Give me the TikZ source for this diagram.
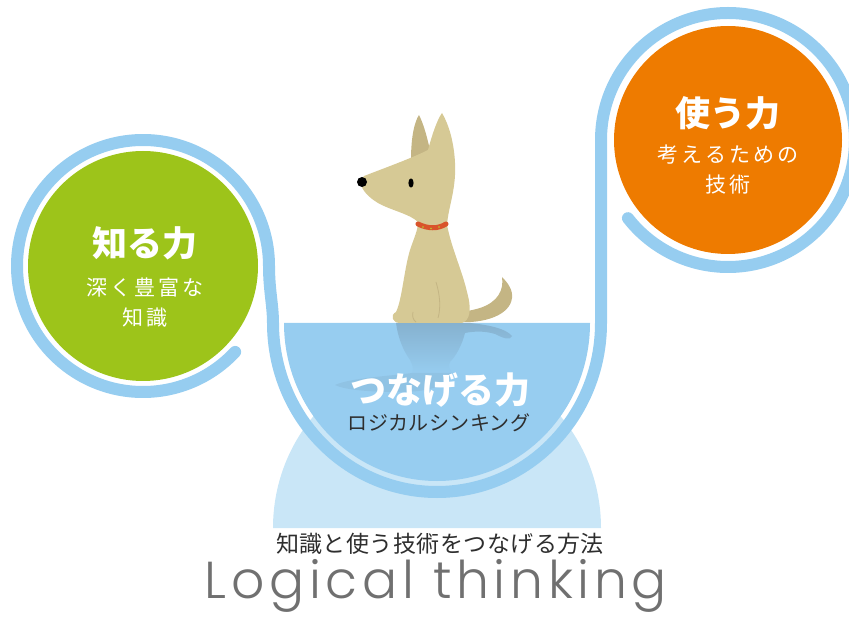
\documentclass[tikz,border=0pt]{standalone}
\usepackage{fontspec}
\newfontfamily\jp{Noto Sans CJK JP}
\newfontfamily\logofont{Poppins Light}
\usetikzlibrary{fadings}

\definecolor{ringblue}{HTML}{96CDF0}
\definecolor{waterblue}{HTML}{97CDF0}
\definecolor{domeblue}{HTML}{C9E6F7}
\definecolor{knowgreen}{HTML}{9DC41A}
\definecolor{useorange}{HTML}{EE7B00}
\definecolor{dogfur}{HTML}{D6C995}
\definecolor{dogshade}{HTML}{C4B584}
\definecolor{collarred}{HTML}{D9542B}
\definecolor{collardot}{HTML}{B5CF2A}
\definecolor{reflectblue}{HTML}{7FA6C2}
\definecolor{darktext}{HTML}{2E2E2E}
\definecolor{logogray}{HTML}{707070}

\tikzset{
  ring/.style={draw=ringblue, line width=12, line cap=round},
  title/.style={text=white, font={\jp\bfseries\fontsize{35}{40}\selectfont}, inner sep=0},
  subtitle/.style={text=white, align=center, inner sep=0,
    font={\jp\fontsize{21}{30}\selectfont\addfontfeatures{LetterSpace=15}}},
  reflect/.style={fill=reflectblue},
}

\begin{document}
\begin{tikzpicture}[x=1pt, y=-1pt]
\useasboundingbox (0,0) rectangle (849,617);

% pale stand under the bowl
\fill[domeblue] (273,528) arc[start angle=180, end angle=360, x radius=164, y radius=170] -- cycle;

% water in the bowl
\path[fill=waterblue] (284,323) arc[start angle=180, end angle=0, x radius=153, y radius=158] -- cycle;

% reflection of the dog on the water
\begin{scope}
  \clip (284,323) arc[start angle=180, end angle=0, x radius=153, y radius=158] -- cycle;
  \fill[reflect, opacity=0.7, path fading=south]
    (396,323) -- (470,323) .. controls (488,325) and (505,328) .. (512,336)
    .. controls (510,341) and (503,338) .. (495,334)
    .. controls (485,331) and (475,331) .. (465,333)
    .. controls (462,345) and (456,356) .. (450,362)
    .. controls (448,366) and (450,370) .. (452,373) -- (412,373)
    .. controls (414,368) and (412,364) .. (410,360)
    .. controls (403,350) and (398,338) .. (396,323) -- cycle;
  \fill[reflect, opacity=0.25]
    (412,373) -- (452,373) .. controls (450,385) and (430,392) .. (400,392)
    .. controls (370,392) and (345,390) .. (335,385)
    .. controls (350,378) and (390,376) .. (412,373) -- cycle;
\end{scope}

% the blue line: around the left circle, through the bowl, around the right circle
\draw[ring] (143,266) ++(43:126) arc[start angle=43, end angle=360, radius=126]
  .. controls (269,290) and (273,305) .. (273,323)
  arc[start angle=180, end angle=0, x radius=164, y radius=169]
  -- (601,140) arc[start angle=180, end angle=502, radius=127];

% the two circles
\fill[knowgreen] (143,266) circle[radius=115];
\fill[useorange] (728,140) circle[radius=114];

% dog: back ear
\fill[dogshade] (411,160) .. controls (411,135) and (415,121) .. (419,115)
  .. controls (424,125) and (427,137) .. (430,150) -- cycle;
% dog: tail
\fill[dogshade] (455,322) .. controls (485,324) and (510,315) .. (512,298)
  .. controls (513,290) and (508,283) .. (502,277)
  .. controls (504,290) and (498,302) .. (480,308)
  .. controls (470,311) and (462,312) .. (455,312) -- cycle;
% dog: head, front ear and body
\fill[dogfur] (364,176) .. controls (390,166) and (412,158) .. (428,150)
  .. controls (432,135) and (437,120) .. (442,113)
  .. controls (452,130) and (456,155) .. (455,175)
  .. controls (454,195) and (448,210) .. (447,225)
  .. controls (452,250) and (462,270) .. (467,292)
  .. controls (472,310) and (470,320) .. (462,323)
  -- (400,323) .. controls (392,323) and (390,315) .. (396,312)
  .. controls (402,300) and (404,270) .. (410,250)
  .. controls (414,238) and (418,230) .. (418,222)
  .. controls (410,214) and (390,210) .. (378,203)
  .. controls (368,197) and (362,190) .. (361,184)
  .. controls (361,180) and (362,178) .. (364,176) -- cycle;
% dog: leg and paw lines
\draw[dogshade, line width=0.8] (436,282) .. controls (440,295) and (441,308) .. (438,318);
\draw[dogshade, line width=0.8] (413,312) .. controls (412,316) and (413,320) .. (416,322);
% dog: nose and eye
\fill[black] (362,182) circle[radius=5];
\fill[black] (411,183) ellipse[x radius=2.6, y radius=4.6];
% dog: collar
\draw[collarred, line width=5, line cap=round] (418,224) .. controls (428,229) and (438,229) .. (446,224);
\foreach \cx/\cy in {423/227, 431/228.5, 439/227} \fill[collardot] (\cx,\cy) circle[radius=0.9];

% texts
\node[title] (know) at (145,243) {知る力};
\node[subtitle] (knowsub) at (145,303) {深く豊富な\\知識};
\node[title] (use) at (728,113) {使う力};
\node[subtitle] (usesub) at (728,170) {考えるための\\技術};
\node[title, font={\jp\bfseries\fontsize{36}{40}\selectfont}] (link) at (440,390) {つなげる力};
\node[text=darktext, inner sep=0, font={\jp\fontsize{20}{24}\selectfont\addfontfeatures{LetterSpace=2}}] (linksub) at (439,423) {ロジカルシンキング};
\node[text=darktext, inner sep=0, font={\jp\fontsize{23}{26}\selectfont\addfontfeatures{LetterSpace=2}}] (method) at (440,544) {知識と使う技術をつなげる方法};
\node[text=logogray, inner sep=0, anchor=base, font={\logofont\fontsize{52}{56}\selectfont\addfontfeatures{LetterSpace=9}}] (logic) at (436,598) {Logical thinking};
\end{tikzpicture}
\end{document}
